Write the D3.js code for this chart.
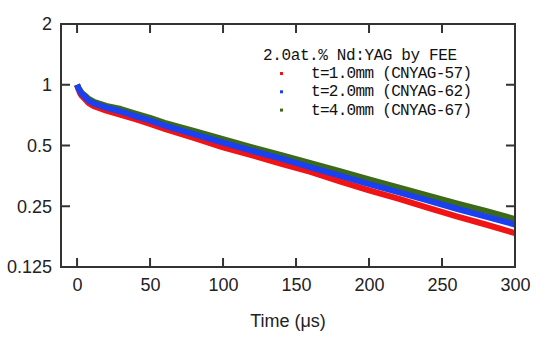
<!DOCTYPE html>
<html lang="en">
<head>
    <meta charset="UTF-8">
    <title>Nd:YAG decay</title>
    <script src="https://cdn.jsdelivr.net/npm/d3@7"></script>
    <style>
        body { margin: 0; background: #fff; }
        .tick text { font-family: "Liberation Sans", Arial, sans-serif; font-size: 18px; fill: #222; }
    </style>
</head>
<body>
<script type="text/javascript">
    var width = 540;
    var height = 338;

    // time (us) and normalized intensity
    var times = [0, 1, 2, 3, 5, 8, 12, 20, 30, 40, 50, 60, 80, 100, 120, 140, 160, 180, 200, 220, 240, 260, 280, 300];
    var red = [1.00, 0.95, 0.91, 0.885, 0.855, 0.81, 0.78, 0.745, 0.71, 0.675, 0.64, 0.605, 0.545, 0.49, 0.447, 0.405, 0.37, 0.332, 0.30, 0.273, 0.246, 0.223, 0.203, 0.184];
    var blue = [1.00, 0.96, 0.93, 0.905, 0.875, 0.835, 0.805, 0.77, 0.737, 0.70, 0.665, 0.628, 0.57, 0.517, 0.47, 0.43, 0.39, 0.355, 0.322, 0.294, 0.267, 0.243, 0.222, 0.203];
    var green = [1.00, 0.965, 0.94, 0.915, 0.89, 0.85, 0.82, 0.785, 0.758, 0.72, 0.685, 0.648, 0.59, 0.538, 0.49, 0.448, 0.409, 0.373, 0.34, 0.31, 0.283, 0.258, 0.237, 0.216];

    var xTicks = [0, 50, 100, 150, 200, 250, 300];
    var yTicks = [0.125, 0.25, 0.5, 1, 2];
    var yLabels = ["0.125", "0.25", "0.5", "1", "2"];

    var legendTitle = "2.0at.% Nd:YAG by FEE";
    var seriesNames = ["t=1.0mm (CNYAG-57)", "t=2.0mm (CNYAG-62)", "t=4.0mm (CNYAG-67)"];
    var seriesColors = ["#f01414", "#1a40f0", "#3c6a18"];

    var pLeft = 61, pRight = 515, pTop = 24, pBottom = 267;
    var tickLen = 9;

    var svg = d3.select('body').append('svg')
            .attr('width', width)
            .attr('height', height);

    var x = d3.scaleLinear().domain([-11, 300]).range([pLeft, pRight]);
    var y = d3.scaleLog().base(2).domain([0.125, 2]).range([pBottom, pTop]);

    // series, drawn so that blue sits on top
    var series = [
        {name: seriesNames[0], color: seriesColors[0], values: red},
        {name: seriesNames[2], color: seriesColors[2], values: green},
        {name: seriesNames[1], color: seriesColors[1], values: blue}
    ];

    var line = d3.line()
            .x(function (d, i) { return x(times[i]); })
            .y(function (d) { return y(d); });

    svg.selectAll('.series')
            .data(series)
            .enter()
            .append('path')
            .attr('class', 'series')
            .attr('d', function (d) { return line(d.values); })
            .attr('fill', 'none')
            .attr('stroke', function (d) { return d.color; })
            .attr('stroke-width', 6)
            .attr('stroke-linejoin', 'round')
            .attr('stroke-linecap', 'butt');

    // tick labels from the axes
    var gB = svg.append('g').attr('transform', 'translate(0,' + pBottom + ')')
            .call(d3.axisBottom(x).tickValues(xTicks).tickSize(0).tickPadding(11));
    var gL = svg.append('g').attr('transform', 'translate(' + pLeft + ',0)')
            .call(d3.axisLeft(y).tickValues(yTicks).tickSize(0).tickPadding(9)
                    .tickFormat(function (d, i) { return yLabels[i]; }));
    gB.select('.domain').remove();
    gL.select('.domain').remove();

    svg.append('rect')
            .attr('x', pLeft).attr('y', pTop)
            .attr('width', pRight - pLeft).attr('height', pBottom - pTop)
            .attr('fill', 'none')
            .attr('stroke', '#333')
            .attr('stroke-width', 2);

    // inward ticks on all four sides, as thin rects
    var tickG = svg.append('g').attr('fill', '#333');
    xTicks.slice(0, -1).forEach(function (d) {
        tickG.append('rect').attr('x', x(d) - 1).attr('y', pBottom - tickLen)
                .attr('width', 2).attr('height', tickLen);
        tickG.append('rect').attr('x', x(d) - 1).attr('y', pTop)
                .attr('width', 2).attr('height', tickLen);
    });
    yTicks.slice(1, -1).forEach(function (d) {
        tickG.append('rect').attr('x', pLeft).attr('y', y(d) - 1)
                .attr('width', tickLen).attr('height', 2);
        tickG.append('rect').attr('x', pRight - tickLen).attr('y', y(d) - 1)
                .attr('width', tickLen).attr('height', 2);
    });

    svg.append('text')
            .attr('x', (pLeft + pRight) / 2)
            .attr('y', 327)
            .attr('text-anchor', 'middle')
            .style('font-family', '"Liberation Sans", Arial, sans-serif')
            .style('font-size', '18px')
            .style('fill', '#222')
            .text('Time (\u03bcs)');

    // legend
    var mono = '"Liberation Mono", "DejaVu Sans Mono", monospace';
    svg.append('text')
            .attr('x', 263)
            .attr('y', 60)
            .attr('textLength', 194)
            .style('font-family', mono)
            .style('font-size', '16px')
            .style('fill', '#111')
            .text(legendTitle);

    var legend = svg.selectAll('.legendItem')
            .data(seriesNames)
            .enter()
            .append('g')
            .attr('class', 'legendItem')
            .attr('transform', function (d, i) {
                return 'translate(0,' + (78 + i * 18.3) + ')';
            });
    legend.append('rect')
            .attr('x', 280)
            .attr('y', -6)
            .attr('width', 3)
            .attr('height', 3)
            .attr('fill', function (d, i) { return seriesColors[i]; });
    legend.append('text')
            .attr('x', 311)
            .attr('y', 0)
            .attr('textLength', 161)
            .style('font-family', mono)
            .style('font-size', '16px')
            .style('fill', '#111')
            .text(function (d) { return d; });
</script>
</body>
</html>
